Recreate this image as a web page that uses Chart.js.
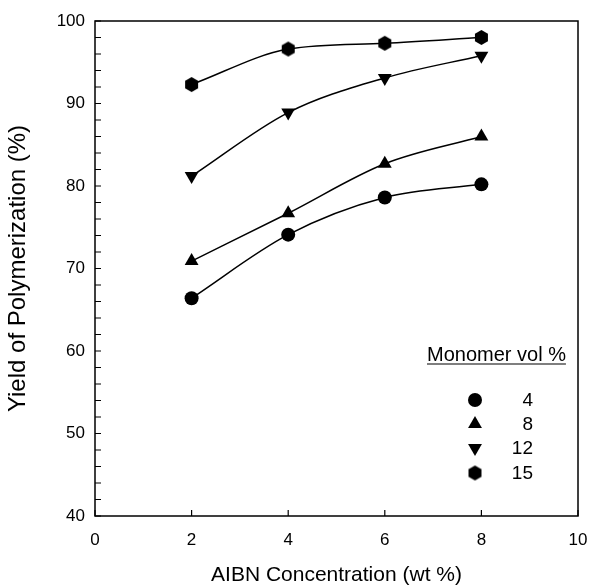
<!DOCTYPE html>
<html>
<head>
<meta charset="utf-8">
<script src="https://cdn.jsdelivr.net/npm/chart.js@4.4.1/dist/chart.umd.min.js"></script>
<style>
  html, body { margin: 0; padding: 0; background: #fff; }
  canvas { display: block; }
</style>
</head>
<body>
<canvas id="yieldChart" width="596" height="586"></canvas>
<script>
// values
const aibnConc = [2, 4, 6, 8];
const yieldVol4 = [66.4, 74.1, 78.6, 80.2];
const yieldVol8 = [70.9, 76.7, 82.7, 86.0];
const yieldVol12 = [81.2, 88.9, 93.1, 95.8];
const yieldVol15 = [92.3, 96.6, 97.3, 98.0];
const monomerVol = ['4', '8', '12', '15'];
const yMajorTicks = [40, 50, 60, 70, 80, 90, 100];
const xTicks = [0, 2, 4, 6, 8, 10];

const FONT = "'Liberation Sans', Arial, sans-serif";

// hexagon marker, chart.js has no built-in one
function makeHexagon(r) {
    const c = document.createElement('canvas');
    const s = Math.ceil(r * 2 + 2);
    c.width = s; c.height = s;
    const g = c.getContext('2d');
    g.beginPath();
    for (let i = 0; i < 6; i++) {
        const a = Math.PI / 2 + i * Math.PI / 3;
        const px = s / 2 + r * Math.cos(a), py = s / 2 + r * Math.sin(a);
        if (i === 0) g.moveTo(px, py); else g.lineTo(px, py);
    }
    g.closePath();
    g.fillStyle = '#000';
    g.fill();
    return c;
}
const hexMarker = makeHexagon(7.5);

const markers = [
    { pointStyle: 'circle', radius: 7, rotation: 0 },
    { pointStyle: 'triangle', radius: 8, rotation: 0 },
    { pointStyle: 'triangle', radius: 8, rotation: 180 },
    { pointStyle: hexMarker, radius: 8, rotation: 0 }
];
const series = [yieldVol4, yieldVol8, yieldVol12, yieldVol15];

const datasets = series.map((vals, i) => ({
    label: monomerVol[i],
    data: aibnConc.map((x, j) => ({ x: x, y: vals[j] })),
    borderColor: '#000',
    backgroundColor: '#000',
    borderWidth: 1.5,
    pointStyle: markers[i].pointStyle,
    pointRadius: markers[i].radius,
    pointRotation: markers[i].rotation,
    pointBorderWidth: 0,
    pointBackgroundColor: '#000',
    cubicInterpolationMode: 'monotone',
    fill: false
}));

// frame, inward ticks and the in-plot legend
const framePlugin = {
    id: 'frame',
    afterDraw(chart) {
        const { ctx, chartArea: a, scales } = chart;
        ctx.save();
        ctx.strokeStyle = '#000';
        ctx.lineWidth = 1.5;
        ctx.strokeRect(a.left, a.top, a.right - a.left, a.bottom - a.top);

        ctx.lineWidth = 1.2;
        ctx.beginPath();
        scales.y.ticks.forEach(t => {
            const py = scales.y.getPixelForValue(t.value);
            ctx.moveTo(a.left, py);
            ctx.lineTo(a.left + 6, py);
        });
        scales.x.ticks.forEach(t => {
            const px = scales.x.getPixelForValue(t.value);
            ctx.moveTo(px, a.bottom);
            ctx.lineTo(px, a.bottom - 6);
        });
        ctx.stroke();

        // legend
        ctx.fillStyle = '#000';
        ctx.font = '20px ' + FONT;
        ctx.textBaseline = 'alphabetic';
        ctx.textAlign = 'left';
        const title = 'Monomer vol %';
        const tx = 427, ty = 361;
        ctx.fillText(title, tx, ty);
        const tw = ctx.measureText(title).width;
        ctx.lineWidth = 1.2;
        ctx.beginPath();
        ctx.moveTo(tx, ty + 3);
        ctx.lineTo(tx + tw, ty + 3);
        ctx.stroke();

        ctx.font = '19px ' + FONT;
        ctx.textAlign = 'right';
        ctx.textBaseline = 'middle';
        const rowY = [400, 424, 448, 473];
        markers.forEach((m, i) => {
            Chart.helpers.drawPoint(ctx, {
                pointStyle: m.pointStyle,
                radius: m.radius,
                rotation: m.rotation,
                borderWidth: 0
            }, 475, rowY[i]);
            ctx.fillStyle = '#000';
            ctx.fillText(monomerVol[i], 533, rowY[i] + 1);
        });
        ctx.restore();
    }
};

const ctx = document.getElementById('yieldChart').getContext('2d');
new Chart(ctx, {
    type: 'line',
    data: { datasets: datasets },
    options: {
        responsive: false,
        animation: false,
        layout: { padding: { top: 21, right: 18, bottom: 0, left: 0 } },
        scales: {
            x: {
                type: 'linear',
                min: 0,
                max: 10,
                grid: { display: false, drawTicks: false },
                border: { display: false },
                afterBuildTicks: s => { s.ticks = xTicks.map(v => ({ value: v })); },
                ticks: { color: '#000', font: { family: FONT, size: 17 }, padding: 14 },
                title: {
                    display: true,
                    text: 'AIBN Concentration (wt %)',
                    color: '#000',
                    font: { family: FONT, size: 21, lineHeight: 1 },
                    padding: { top: 0, bottom: 0 }
                },
                afterFit: s => {
                    s.height = 70;
                    s.paddingLeft = 10;
                    s.paddingRight = 10;
                }
            },
            y: {
                min: 40,
                max: 100,
                grid: { display: false, drawTicks: false },
                border: { display: false },
                ticks: {
                    stepSize: 2,
                    autoSkip: false,
                    color: '#000',
                    font: { family: FONT, size: 17 },
                    padding: 10,
                    callback: v => (yMajorTicks.includes(v) ? v : '')
                },
                title: {
                    display: true,
                    text: 'Yield of Polymerization (%)',
                    color: '#000',
                    font: { family: FONT, size: 24 },
                    padding: { top: 4, bottom: 0 }
                },
                afterFit: s => { s.width = 95; }
            }
        },
        plugins: {
            legend: { display: false },
            tooltip: { enabled: false }
        }
    },
    plugins: [framePlugin]
});
</script>
</body>
</html>
